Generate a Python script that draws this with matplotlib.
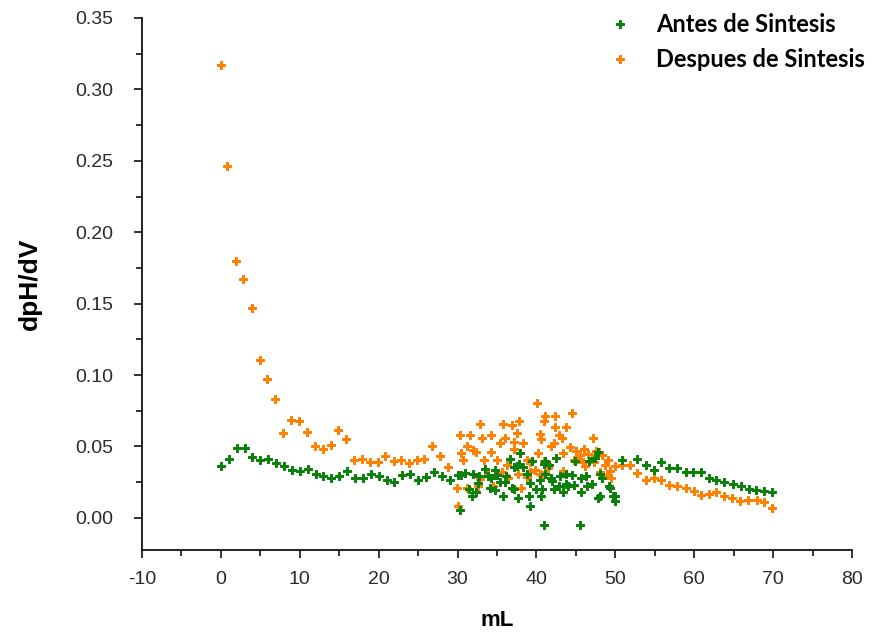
import matplotlib
matplotlib.use("Agg")
import matplotlib.pyplot as plt
from matplotlib.ticker import MultipleLocator
from matplotlib.lines import Line2D

# ---- data: Antes de Sintesis (green) ----
antes_x = [0, 1, 2, 3, 4, 5, 6, 7, 8, 9, 10, 11, 12, 13, 14, 15, 16, 17, 18, 19,
           20, 21, 22, 23, 24, 25, 26, 27, 28, 29, 30,
           30.3, 30.4, 30.9, 31.4, 31.8, 32.0, 32.4, 32.6, 32.7, 33.5, 33.9, 34.1,
           34.3, 34.7, 34.8, 35.0, 35.4, 35.8, 36.0, 36.1, 36.6, 36.9, 37.1, 37.1,
           37.5, 37.7, 37.8, 37.9, 38.3, 38.8, 39.0, 39.2, 39.2, 39.4, 40.0, 40.4,
           40.6, 40.7, 40.9, 40.9, 41.1, 41.1, 41.6, 41.8, 42.0, 42.2, 42.5, 42.8,
           43.0, 43.4, 43.7, 43.8, 44.0, 44.5, 44.7, 44.9, 45.5, 45.7, 45.7, 46.3,
           46.4, 46.7, 47.1, 47.4, 47.8, 47.8, 48.1, 48.1, 48.3, 49.2, 49.3, 49.7,
           50.0, 50.0,
           50.8, 52.8, 53.9, 54.9, 55.8, 56.8, 57.8, 58.9, 59.9, 60.8, 61.9, 62.8,
           63.8, 64.9, 65.9, 66.9, 67.8, 68.9, 69.9]
antes_y = [0.036, 0.041, 0.049, 0.049, 0.0425, 0.0406, 0.041, 0.0383, 0.036, 0.0336,
           0.0327, 0.034, 0.031, 0.0296, 0.028, 0.0296, 0.0327, 0.028, 0.028, 0.0308,
           0.0296, 0.0266, 0.0252, 0.030, 0.031, 0.0266, 0.0285, 0.032, 0.0296, 0.0266, 0.030,
           0.0056, 0.030, 0.0317, 0.020, 0.015, 0.031, 0.0184, 0.0247, 0.029, 0.034, 0.0294, 0.021,
           0.028, 0.0196, 0.0336, 0.030, 0.0254, 0.015, 0.0254, 0.029, 0.041, 0.0208, 0.0355, 0.020,
           0.036, 0.0138, 0.038, 0.0457, 0.0355, 0.031, 0.015, 0.0247, 0.008, 0.040, 0.020, 0.0266,
           0.015, 0.020, 0.0378, -0.005, 0.031, 0.040, 0.037, 0.028, 0.0256, 0.020, 0.042, 0.022,
           0.029, 0.018, 0.024, 0.031, 0.022, 0.030, 0.023, 0.040, -0.005, 0.018, 0.0278, 0.029,
           0.022, 0.040, 0.024, 0.042, 0.0464, 0.014, 0.031, 0.015, 0.0278, 0.022, 0.0208, 0.015,
           0.012, 0.015,
           0.0406, 0.0415, 0.037, 0.0336, 0.0394, 0.0352, 0.0352, 0.0324, 0.0324, 0.032, 0.0282, 0.0262,
           0.025, 0.0238, 0.0224, 0.0205, 0.0196, 0.0185, 0.018]

# ---- data: Despues de Sintesis (orange) ----
despues_x = [0, 0.8, 1.9, 2.8, 3.9, 4.9, 5.9, 6.9, 7.9, 8.9, 9.9, 10.9, 11.9, 12.9,
             13.9, 14.9, 15.9, 16.9, 17.9, 18.9, 19.9, 20.8, 21.9, 22.8, 23.8, 24.8,
             25.8, 26.8, 27.8, 28.8, 29.9,
             30.0, 30.3, 30.4, 30.7, 31.2, 31.2, 31.6, 32.0, 32.4, 32.6, 32.8, 32.9,
             33.1, 33.4, 33.8, 34.3, 34.3, 34.5, 35.0, 35.4, 35.6, 35.8, 36.0, 36.3,
             36.4, 36.9, 37.1, 37.1, 37.5, 37.7, 37.8, 38.1, 38.3, 38.8, 38.8, 39.2,
             39.2, 39.8, 40.1, 40.2, 40.4, 40.5, 40.6, 40.7, 40.9, 41.0, 41.1, 41.3,
             41.5, 41.9, 42.2, 42.4, 42.4, 42.8, 43.2, 43.4, 43.4, 43.8, 44.3, 44.5,
             44.7, 45.0, 45.2, 45.5, 45.9, 46.0, 46.2, 46.5, 46.6, 47.0, 47.2, 47.3,
             47.6, 47.9, 48.1, 48.3, 48.7, 48.9, 49.1, 49.3, 49.5, 50.0,
             50.8, 51.9, 52.8, 53.9, 54.9, 55.8, 56.8, 57.8, 58.9, 60.0, 60.8, 61.9,
             62.7, 63.8, 64.8, 65.8, 66.8, 67.9, 68.9, 69.9]
despues_y = [0.317, 0.2464, 0.180, 0.1675, 0.147, 0.1106, 0.0975, 0.083, 0.0595, 0.0688,
             0.068, 0.060, 0.050, 0.048, 0.051, 0.0616, 0.0555, 0.0406, 0.041, 0.039,
             0.039, 0.0434, 0.040, 0.0406, 0.0387, 0.0406, 0.041, 0.050, 0.043, 0.0355, 0.0208,
             0.0084, 0.058, 0.0457, 0.0406, 0.021, 0.050, 0.058, 0.0476, 0.0464, 0.022, 0.027, 0.0658,
             0.0558, 0.0406, 0.030, 0.058, 0.0464, 0.022, 0.0406, 0.0523, 0.0324, 0.0658, 0.0558, 0.037,
             0.0278, 0.0651, 0.0534, 0.048, 0.0597, 0.031, 0.068, 0.0208, 0.0527, 0.0406, 0.0285, 0.0324,
             0.039, 0.0336, 0.0803, 0.0457, 0.0588, 0.031, 0.055, 0.030, 0.040, 0.068, 0.071, 0.038,
             0.0348, 0.050, 0.0523, 0.071, 0.0635, 0.058, 0.0558, 0.0453, 0.0327, 0.0635, 0.0495, 0.0733,
             0.0406, 0.047, 0.041, 0.044, 0.039, 0.048, 0.036, 0.045, 0.040, 0.042, 0.0558, 0.039,
             0.047, 0.046, 0.0324, 0.044, 0.037, 0.030, 0.0406, 0.033, 0.0278, 0.036,
             0.037, 0.037, 0.0317, 0.0266, 0.0282, 0.0266, 0.023, 0.0224, 0.0208, 0.019, 0.016, 0.0168,
             0.0178, 0.015, 0.0138, 0.0121, 0.0125, 0.0125, 0.0114, 0.0072]

labels = ["Antes de Sintesis", "Despues de Sintesis"]
green = "#0a800a"
orange = "#ff8000"

fig = plt.figure(figsize=(8.73, 6.37), dpi=100)
ax = fig.add_axes([142/873, 1 - 550/637, (852-142)/873, (550-18)/637])

ms = 34
ax.scatter(antes_x, antes_y, s=ms, marker="P", color=green, edgecolors=green,
           linewidths=0.7, zorder=3)
ax.scatter(despues_x, despues_y, s=ms, marker="P", color=orange, edgecolors=orange,
           linewidths=0.7, zorder=2)

ax.set_xlim(-10, 80)
ax.set_ylim(-0.0225, 0.35)
ax.xaxis.set_major_locator(MultipleLocator(10))
ax.xaxis.set_minor_locator(MultipleLocator(5))
ax.yaxis.set_major_locator(MultipleLocator(0.05))
ax.yaxis.set_minor_locator(MultipleLocator(0.025))
ax.yaxis.set_major_formatter(plt.FuncFormatter(lambda v, p: f"{v:.2f}"))
ax.xaxis.set_major_formatter(plt.FuncFormatter(lambda v, p: f"{v:.0f}"))

for s in ["top", "right"]:
    ax.spines[s].set_visible(False)
for s in ["left", "bottom"]:
    ax.spines[s].set_linewidth(1.3)
    ax.spines[s].set_color("#111111")

ax.tick_params(which="major", direction="out", length=6, width=1.2, color="#111111",
               labelsize=14, labelcolor="#2a2a2a")
ax.tick_params(which="minor", direction="out", length=4, width=1.2, color="#111111")
ax.tick_params(axis="y", which="major", pad=15)
ax.tick_params(axis="x", which="major", pad=9)
for lab in ax.get_xticklabels() + ax.get_yticklabels():
    lab.set_family("Liberation Sans")

ax.set_xlabel("mL", fontsize=16, fontweight="bold", family="Liberation Sans", labelpad=16)
ax.set_ylabel("dpH/dV", fontsize=19, fontweight="bold", family="Liberation Sans", labelpad=24)

handles = [Line2D([], [], linestyle="none", marker="P", markersize=6, color=green,
                  markeredgewidth=0.7),
           Line2D([], [], linestyle="none", marker="P", markersize=6, color=orange,
                  markeredgewidth=0.7)]
fig.legend(handles, labels, loc="upper left", bbox_to_anchor=(0.672, 1.0126),
           frameon=False, prop={"family": "Lato", "weight": "bold", "size": 17},
           handlelength=1.0, handletextpad=1.03, labelspacing=0.51)

fig.savefig("out.png", dpi=100)
